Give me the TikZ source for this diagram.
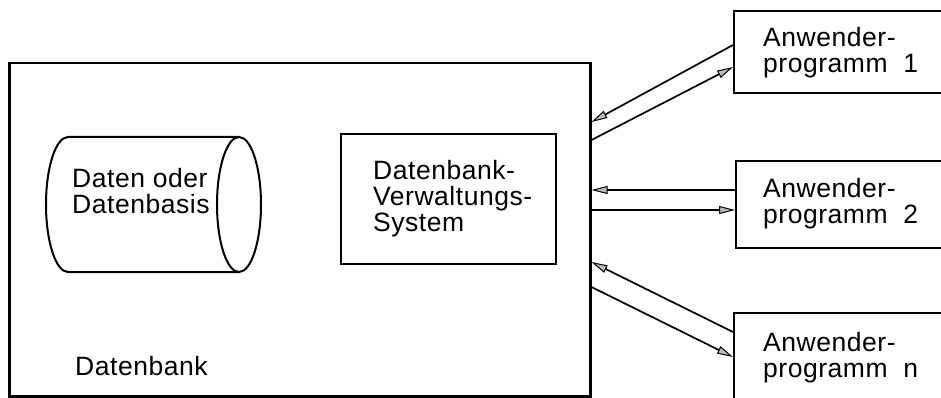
\documentclass[tikz,border=0pt]{standalone}
\usepackage{fontspec}
\setmainfont{Liberation Sans}[LetterSpace=2]
\usetikzlibrary{arrows.meta}
\tikzset{
  lbl/.style={inner sep=0pt, align=left, anchor=base west, font=\fontsize{26.5}{26}\selectfont},
  mainbox/.style={draw, line width=2.5pt, anchor=north west, inner sep=0pt},
  appbox/.style={draw, line width=2pt, anchor=north west, inner sep=0pt, minimum width=230pt},
  arr/.style={line width=1.7pt, -{Triangle[length=16pt, width=8pt, fill=gray!55, line width=1pt]}},
}
\begin{document}
\begin{tikzpicture}[x=1pt, y=-1pt]
\useasboundingbox (0,0) rectangle (941,398);
\clip (0,0) rectangle (941,398);
\fill[white] (0,0) rectangle (941,398);
% main box
\node[mainbox, minimum width=581pt, minimum height=333pt] (db) at (8,62) {};
% cylinder
\draw[line width=2pt] (239,137) -- (68,137) arc[start angle=90, end angle=270, x radius=22, y radius=-67.5] -- (239,272);
\draw[line width=2pt] (239,204.5) ellipse[x radius=22, y radius=67.5];
\node[lbl] (daten) at (72,213) {Daten oder\\Datenbasis};
% DBMS
\node[mainbox, line width=2pt, minimum width=215pt, minimum height=130pt] (dbms) at (340,133) {};
\node[lbl] (dbmst) at (373,231) {Datenbank-\\Verwaltungs-\\System};
\node[lbl] (dbl) at (75,375) {Datenbank};
% application boxes
\node[appbox, minimum height=82pt] (app1) at (733,10) {};
\node[appbox, minimum height=87pt] (app2) at (735,160) {};
\node[appbox, minimum height=86pt] (appn) at (733,312) {};
\node[lbl] (t1) at (763,73) {Anwender-\\programm\ \ 1};
\node[lbl] (t2) at (763,223) {Anwender-\\programm\ \ 2};
\node[lbl] (tn) at (763,377) {Anwender-\\programm\ \ n};
% connectors
\draw[arr] (app1.west |- 0,45) -- (db.east |- 0,122);
\draw[arr] (db.east |- 0,140) -- (app1.west |- 0,67);
\draw[arr] (app2.west |- 0,190) -- (db.east |- 0,190);
\draw[arr] (db.east |- 0,210) -- (app2.west |- 0,210);
\draw[arr] (appn.west |- 0,332) -- (db.east |- 0,262);
\draw[arr] (db.east |- 0,287) -- (appn.west |- 0,357);
\end{tikzpicture}
\end{document}
